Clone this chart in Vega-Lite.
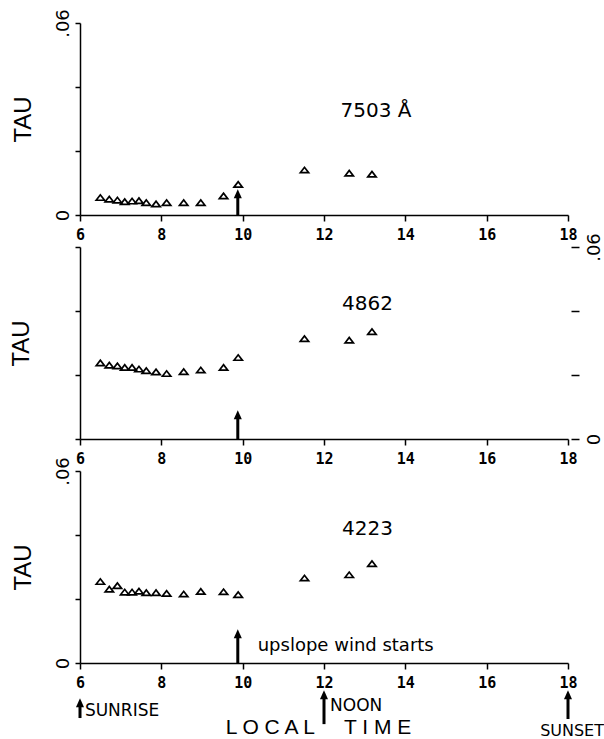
{
  "$schema": "https://vega.github.io/schema/vega-lite/v6.json",
  "padding": {"left": 9, "top": 8, "right": 0, "bottom": 0},
  "background": "white",
  "spacing": 32,
  "bounds": "flush",
  "config": {
    "view": {"stroke": null},
    "axis": {"grid": false, "domainColor": "black", "tickColor": "black", "labelColor": "black", "titleColor": "black", "domainWidth": 1.5, "tickWidth": 1.5}
  },
  "datasets": {
    "tau": [
      {"panel": "7503", "hour": 6.50, "tau": 0.0054},
      {"panel": "7503", "hour": 6.72, "tau": 0.0049},
      {"panel": "7503", "hour": 6.92, "tau": 0.0046},
      {"panel": "7503", "hour": 7.10, "tau": 0.0041},
      {"panel": "7503", "hour": 7.28, "tau": 0.0043},
      {"panel": "7503", "hour": 7.45, "tau": 0.0044},
      {"panel": "7503", "hour": 7.63, "tau": 0.0038},
      {"panel": "7503", "hour": 7.87, "tau": 0.0034},
      {"panel": "7503", "hour": 8.13, "tau": 0.0038},
      {"panel": "7503", "hour": 8.55, "tau": 0.0038},
      {"panel": "7503", "hour": 8.97, "tau": 0.0038},
      {"panel": "7503", "hour": 9.53, "tau": 0.0059},
      {"panel": "7503", "hour": 9.89, "tau": 0.0095},
      {"panel": "7503", "hour": 11.52, "tau": 0.0140},
      {"panel": "7503", "hour": 12.62, "tau": 0.0130},
      {"panel": "7503", "hour": 13.18, "tau": 0.0127},
      {"panel": "4862", "hour": 6.50, "tau": 0.0237},
      {"panel": "4862", "hour": 6.72, "tau": 0.0230},
      {"panel": "4862", "hour": 6.92, "tau": 0.0228},
      {"panel": "4862", "hour": 7.10, "tau": 0.0223},
      {"panel": "4862", "hour": 7.28, "tau": 0.0223},
      {"panel": "4862", "hour": 7.45, "tau": 0.0218},
      {"panel": "4862", "hour": 7.63, "tau": 0.0213},
      {"panel": "4862", "hour": 7.87, "tau": 0.0209},
      {"panel": "4862", "hour": 8.13, "tau": 0.0204},
      {"panel": "4862", "hour": 8.55, "tau": 0.0210},
      {"panel": "4862", "hour": 8.97, "tau": 0.0215},
      {"panel": "4862", "hour": 9.53, "tau": 0.0223},
      {"panel": "4862", "hour": 9.89, "tau": 0.0254},
      {"panel": "4862", "hour": 11.52, "tau": 0.0313},
      {"panel": "4862", "hour": 12.62, "tau": 0.0308},
      {"panel": "4862", "hour": 13.18, "tau": 0.0335},
      {"panel": "4223", "hour": 6.50, "tau": 0.0254},
      {"panel": "4223", "hour": 6.72, "tau": 0.0230},
      {"panel": "4223", "hour": 6.92, "tau": 0.0241},
      {"panel": "4223", "hour": 7.10, "tau": 0.0221},
      {"panel": "4223", "hour": 7.28, "tau": 0.0221},
      {"panel": "4223", "hour": 7.45, "tau": 0.0224},
      {"panel": "4223", "hour": 7.63, "tau": 0.0219},
      {"panel": "4223", "hour": 7.87, "tau": 0.0219},
      {"panel": "4223", "hour": 8.13, "tau": 0.0217},
      {"panel": "4223", "hour": 8.55, "tau": 0.0215},
      {"panel": "4223", "hour": 8.97, "tau": 0.0223},
      {"panel": "4223", "hour": 9.53, "tau": 0.0222},
      {"panel": "4223", "hour": 9.89, "tau": 0.0213},
      {"panel": "4223", "hour": 11.52, "tau": 0.0265},
      {"panel": "4223", "hour": 12.62, "tau": 0.0275},
      {"panel": "4223", "hour": 13.18, "tau": 0.0310}
    ],
    "arrows": [
      {"panel": "7503", "hour": 9.88, "base": 0, "head": 0.0061},
      {"panel": "4862", "hour": 9.88, "base": 0, "head": 0.0070},
      {"panel": "4223", "hour": 9.88, "base": 0, "head": 0.0086},
      {"panel": "4223", "hour": 6, "base": -0.0172, "head": -0.0130},
      {"panel": "4223", "hour": 12, "base": -0.0191, "head": -0.0105},
      {"panel": "4223", "hour": 18, "base": -0.0175, "head": -0.0105}
    ],
    "labels": [
      {"panel": "7503", "hour": 13.28, "tau": 0.0324, "text": "7503 Å"},
      {"panel": "4862", "hour": 13.07, "tau": 0.0422, "text": "4862"},
      {"panel": "4223", "hour": 13.07, "tau": 0.0419, "text": "4223"}
    ],
    "notes": [
      {"hour": 10.37, "tau": 0.0053, "text": "upslope wind starts", "kind": "wind"},
      {"hour": 6.12, "tau": -0.0150, "text": "SUNRISE", "kind": "left"},
      {"hour": 12.15, "tau": -0.0133, "text": "NOON", "kind": "left"},
      {"hour": 18.1, "tau": -0.0212, "text": "SUNSET", "kind": "center"}
    ]
  },
  "vconcat": [
    {
      "width": 488, "height": 192,
      "layer": [
        {
          "data": {"name": "tau"},
          "transform": [{"filter": "datum.panel == '7503'"}],
          "mark": {"type": "point", "shape": "M-1,0.6L0,-0.7L1,0.6Z", "filled": false, "stroke": "black", "strokeWidth": 1.7, "size": 70, "opacity": 1},
          "encoding": {
            "x": {"field": "hour", "type": "quantitative", "scale": {"domain": [6, 18], "nice": false}, "axis": {"values": [6, 8, 10, 12, 14, 16, 18], "title": null, "labelFont": "DejaVu Sans Mono", "labelFontSize": 15, "labelFontWeight": "bold", "tickSize": 6, "labelPadding": 6, "labelFlush": false}},
            "y": {"field": "tau", "type": "quantitative", "scale": {"domain": [0, 0.06], "nice": false}, "axis": {"values": [0, 0.02, 0.04, 0.06], "labelExpr": "datum.value == 0 ? '0' : datum.value > 0.059 ? '.06' : ''", "labelAngle": -90, "labelFont": "DejaVu Sans", "labelFontSize": 18, "labelPadding": 3, "tickSize": 5, "title": "TAU", "titleFont": "Liberation Sans", "titleFontSize": 24, "titleFontWeight": "normal", "titlePadding": 19}}
          }
        },
        {
          "data": {"name": "arrows"},
          "transform": [{"filter": "datum.panel == '7503'"}],
          "mark": {"type": "rule", "color": "black", "strokeWidth": 3},
          "encoding": {"x": {"field": "hour", "type": "quantitative"}, "y": {"field": "head", "type": "quantitative"}, "y2": {"field": "base"}}
        },
        {
          "data": {"name": "arrows"},
          "transform": [{"filter": "datum.panel == '7503'"}],
          "mark": {"type": "point", "shape": "M0,-1.4L0.9,0.6L-0.9,0.6Z", "filled": true, "color": "black", "size": 80, "opacity": 1},
          "encoding": {"x": {"field": "hour", "type": "quantitative"}, "y": {"field": "head", "type": "quantitative"}}
        },
        {
          "data": {"name": "labels"},
          "transform": [{"filter": "datum.panel == '7503'"}],
          "mark": {"type": "text", "font": "DejaVu Sans", "fontSize": 20, "color": "black", "align": "center", "baseline": "middle"},
          "encoding": {"x": {"field": "hour", "type": "quantitative"}, "y": {"field": "tau", "type": "quantitative"}, "text": {"field": "text"}}
        }
      ]
    },
    {
      "width": 488, "height": 192,
      "resolve": {"axis": {"y": "independent"}},
      "layer": [
        {
          "data": {"name": "tau"},
          "transform": [{"filter": "datum.panel == '4862'"}],
          "mark": {"type": "point", "shape": "M-1,0.6L0,-0.7L1,0.6Z", "filled": false, "stroke": "black", "strokeWidth": 1.7, "size": 70, "opacity": 1},
          "encoding": {
            "x": {"field": "hour", "type": "quantitative", "scale": {"domain": [6, 18], "nice": false}, "axis": {"values": [6, 8, 10, 12, 14, 16, 18], "title": null, "labelFont": "DejaVu Sans Mono", "labelFontSize": 15, "labelFontWeight": "bold", "tickSize": 6, "labelPadding": 6, "labelFlush": false}},
            "y": {"field": "tau", "type": "quantitative", "scale": {"domain": [0, 0.06], "nice": false}, "axis": {"orient": "left", "values": [0, 0.02, 0.04, 0.06], "labels": false, "tickSize": 5, "title": "TAU", "titleFont": "Liberation Sans", "titleFontSize": 24, "titleFontWeight": "normal", "titlePadding": 41}}
          }
        },
        {
          "data": {"name": "arrows"},
          "transform": [{"filter": "datum.panel == '4862'"}],
          "mark": {"type": "rule", "color": "black", "strokeWidth": 3},
          "encoding": {"x": {"field": "hour", "type": "quantitative"}, "y": {"field": "head", "type": "quantitative", "axis": {"orient": "right", "values": [0, 0.02, 0.04, 0.06], "labelExpr": "datum.value == 0 ? '0' : datum.value > 0.059 ? '.06' : ''", "labelAngle": -90, "labelFont": "DejaVu Sans", "labelFontSize": 18, "labelPadding": 6, "tickSize": 8, "offset": 3, "domain": false, "title": null}}, "y2": {"field": "base"}}
        },
        {
          "data": {"name": "arrows"},
          "transform": [{"filter": "datum.panel == '4862'"}],
          "mark": {"type": "point", "shape": "M0,-1.4L0.9,0.6L-0.9,0.6Z", "filled": true, "color": "black", "size": 80, "opacity": 1},
          "encoding": {"x": {"field": "hour", "type": "quantitative"}, "y": {"field": "head", "type": "quantitative", "axis": null}}
        },
        {
          "data": {"name": "labels"},
          "transform": [{"filter": "datum.panel == '4862'"}],
          "mark": {"type": "text", "font": "DejaVu Sans", "fontSize": 20, "color": "black", "align": "center", "baseline": "middle"},
          "encoding": {"x": {"field": "hour", "type": "quantitative"}, "y": {"field": "tau", "type": "quantitative", "axis": null}, "text": {"field": "text"}}
        }
      ]
    },
    {
      "width": 488, "height": 192,
      "layer": [
        {
          "data": {"name": "tau"},
          "transform": [{"filter": "datum.panel == '4223'"}],
          "mark": {"type": "point", "shape": "M-1,0.6L0,-0.7L1,0.6Z", "filled": false, "stroke": "black", "strokeWidth": 1.7, "size": 70, "opacity": 1},
          "encoding": {
            "x": {"field": "hour", "type": "quantitative", "scale": {"domain": [6, 18], "nice": false}, "axis": {"values": [6, 8, 10, 12, 14, 16, 18], "title": "L O C A L\u00a0\u00a0\u00a0\u00a0\u00a0T I M E", "titleFont": "Liberation Sans", "titleFontSize": 21, "titleFontWeight": "normal", "titleBaseline": "alphabetic", "titleAlign": "center", "titleX": 238, "titleY": 70, "labelFont": "DejaVu Sans Mono", "labelFontSize": 15, "labelFontWeight": "bold", "tickSize": 6, "labelPadding": 6, "labelFlush": false}},
            "y": {"field": "tau", "type": "quantitative", "scale": {"domain": [0, 0.06], "nice": false}, "axis": {"values": [0, 0.02, 0.04, 0.06], "labelExpr": "datum.value == 0 ? '0' : datum.value > 0.059 ? '.06' : ''", "labelAngle": -90, "labelFont": "DejaVu Sans", "labelFontSize": 18, "labelPadding": 3, "tickSize": 5, "title": "TAU", "titleFont": "Liberation Sans", "titleFontSize": 24, "titleFontWeight": "normal", "titlePadding": 19}}
          }
        },
        {
          "data": {"name": "arrows"},
          "transform": [{"filter": "datum.panel == '4223'"}],
          "mark": {"type": "rule", "color": "black", "strokeWidth": 3},
          "encoding": {"x": {"field": "hour", "type": "quantitative"}, "y": {"field": "head", "type": "quantitative"}, "y2": {"field": "base"}}
        },
        {
          "data": {"name": "arrows"},
          "transform": [{"filter": "datum.panel == '4223'"}],
          "mark": {"type": "point", "shape": "M0,-1.4L0.9,0.6L-0.9,0.6Z", "filled": true, "color": "black", "size": 80, "opacity": 1},
          "encoding": {"x": {"field": "hour", "type": "quantitative"}, "y": {"field": "head", "type": "quantitative"}}
        },
        {
          "data": {"name": "labels"},
          "transform": [{"filter": "datum.panel == '4223'"}],
          "mark": {"type": "text", "font": "DejaVu Sans", "fontSize": 20, "color": "black", "align": "center", "baseline": "middle"},
          "encoding": {"x": {"field": "hour", "type": "quantitative"}, "y": {"field": "tau", "type": "quantitative"}, "text": {"field": "text"}}
        },
        {
          "data": {"name": "notes"},
          "transform": [{"filter": "datum.kind == 'wind'"}],
          "mark": {"type": "text", "font": "DejaVu Sans", "fontSize": 18, "color": "black", "align": "left", "baseline": "middle"},
          "encoding": {"x": {"field": "hour", "type": "quantitative"}, "y": {"field": "tau", "type": "quantitative"}, "text": {"field": "text"}}
        },
        {
          "data": {"name": "notes"},
          "transform": [{"filter": "datum.kind == 'left'"}],
          "mark": {"type": "text", "font": "DejaVu Sans", "fontSize": 17, "color": "black", "align": "left", "baseline": "middle"},
          "encoding": {"x": {"field": "hour", "type": "quantitative"}, "y": {"field": "tau", "type": "quantitative"}, "text": {"field": "text"}}
        },
        {
          "data": {"name": "notes"},
          "transform": [{"filter": "datum.kind == 'center'"}],
          "mark": {"type": "text", "font": "DejaVu Sans", "fontSize": 16, "color": "black", "align": "center", "baseline": "middle"},
          "encoding": {"x": {"field": "hour", "type": "quantitative"}, "y": {"field": "tau", "type": "quantitative"}, "text": {"field": "text"}}
        }
      ]
    }
  ]
}
